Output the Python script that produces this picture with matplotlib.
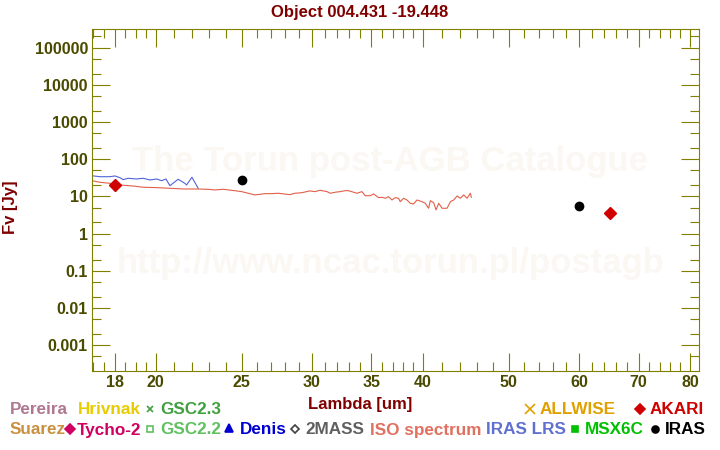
import matplotlib
matplotlib.use("Agg")
import matplotlib.pyplot as plt
from matplotlib.lines import Line2D
from matplotlib.ticker import FixedLocator, NullFormatter

plt.rcParams["font.family"] = ["Liberation Sans", "DejaVu Sans"]
plt.rcParams["font.weight"] = "bold"

# IRAS LRS spectrum (um, Jy)
lrs_wave = [16.95, 17.31, 17.77, 18.0, 18.24, 18.39, 18.63, 19.04, 19.37, 19.71,
            20.06, 20.32, 20.55, 20.76, 21.21, 21.58, 21.68, 21.98, 22.34]
lrs_flux = [36.2, 34.0, 34.0, 35.6, 32.0, 28.3, 30.8, 29.5, 30.8, 27.8,
            29.5, 26.6, 29.5, 19.5, 29.0, 22.6, 20.4, 32.8, 16.6]

# ISO spectrum (um, Jy)
iso_wave = [16.95, 17.31, 17.77, 18.39, 18.88, 19.37, 20.06, 20.76, 21.49, 22.25,
            22.93, 23.33, 23.84, 24.57, 25.00, 25.44, 25.88, 26.56, 27.03, 27.49,
            28.34, 28.71, 29.21, 29.85, 30.24, 30.64, 31.20, 31.46, 31.87, 32.29,
            32.71, 32.99, 33.72, 34.16, 34.45, 34.91, 35.21, 35.67, 35.98, 36.29,
            36.60, 36.93, 37.24, 37.56, 37.73, 38.05, 38.39, 38.72, 39.06, 39.40,
            39.92, 40.26, 40.61, 40.79, 41.14, 41.40, 41.68, 42.05, 42.60, 42.97,
            43.34, 43.72, 44.09, 44.47, 44.87, 45.25, 45.37]
iso_flux = [26.6, 24.1, 22.6, 20.0, 19.1, 17.7, 17.3, 16.6, 15.9, 15.9,
            15.6, 15.0, 15.6, 14.3, 13.5, 12.2, 11.0, 11.9, 11.9, 12.2,
            11.2, 12.2, 12.6, 14.1, 13.5, 14.7, 13.5, 12.2, 13.0, 13.5,
            14.3, 14.3, 12.2, 13.5, 10.5, 10.5, 11.7, 9.29, 9.51, 8.95,
            9.89, 8.05, 9.29, 8.95, 7.24, 8.95, 8.05, 6.56, 6.28, 8.05,
            7.24, 6.56, 4.82, 7.71, 6.81, 4.34, 6.56, 4.82, 4.82, 7.24,
            8.05, 10.3, 8.95, 11.0, 8.95, 12.2, 9.51]

iras_wave = [25, 60]
iras_flux = [27.2, 5.45]
akari_wave = [18, 65]
akari_flux = [20.4, 3.53]

x_major = [18, 20, 25, 30, 35, 40, 50, 60, 70, 80]
x_minor = [17, 17.5, 18.5, 19, 19.5, 21, 22, 23, 24, 26, 27, 28, 29, 31, 32, 33, 34,
           36, 37, 38, 39, 42, 44, 46, 48, 52, 54, 56, 58, 62, 64, 66, 68,
           72, 74, 76, 78, 82]
y_major = [0.001, 0.01, 0.1, 1, 10, 100, 1000, 10000, 100000]
y_labels = ["0.001", "0.01", "0.1", "1", "10", "100", "1000", "10000", "100000"]
y_minor = [m * 10.0 ** e for e in range(-4, 6) for m in (2, 5)]

olive = "#808000"
label_col = "#4a4a00"
title_col = "#800000"

fig = plt.figure(figsize=(7.2, 4.5), dpi=100)
ax = fig.add_axes([0.128, 0.1756, 0.843, 0.7589])

fig.text(390 / 720, 1 - 161 / 450, "The Torun post-AGB Catalogue", fontsize=25,
         color="#fbf7f2", ha="center", va="center", zorder=0)
fig.text(391 / 720, 1 - 263 / 450, "http://www.ncac.torun.pl/postagb", fontsize=25,
         color="#fbf7f2", ha="center", va="center", zorder=0)
ax.patch.set_alpha(0)

ax.plot(lrs_wave, lrs_flux, color="#5064d8", lw=0.8)
ax.plot(iso_wave, iso_flux, color="#e06048", lw=0.8)
ax.plot(iras_wave, iras_flux, "o", color="black", ms=6)
ax.plot(akari_wave, akari_flux, "D", color="#d00000", ms=6)

ax.set_xscale("log")
ax.set_yscale("log")
ax.set_xlim(16.97, 81.9)
ax.set_ylim(2.04e-4, 3.08e5)

ax.xaxis.set_major_locator(FixedLocator(x_major))
ax.xaxis.set_minor_locator(FixedLocator(x_minor))
ax.set_xticklabels([str(v) for v in x_major])
ax.xaxis.set_minor_formatter(NullFormatter())
ax.yaxis.set_major_locator(FixedLocator(y_major))
ax.yaxis.set_minor_locator(FixedLocator(y_minor))
ax.set_yticklabels(y_labels)
ax.yaxis.set_minor_formatter(NullFormatter())

ax.tick_params(which="both", direction="in", top=True, right=True, color=olive,
               width=0.8, labelsize=11.5, labelcolor=label_col)
ax.tick_params(which="major", length=13, pad=3)
ax.tick_params(which="minor", length=6.5)
for s in ax.spines.values():
    s.set_color(olive)
    s.set_linewidth(0.8)

fig.text(360 / 720, 1 - 12 / 450, "Object 004.431 -19.448", fontsize=12,
         color=title_col, ha="center", va="center")
fig.text(360 / 720, 1 - 405 / 450, "Lambda [um]", fontsize=12, color=title_col,
         ha="center", va="center")
fig.text(11 / 720, 1 - 207 / 450, "Fv [Jy]", fontsize=12, color=title_col,
         ha="center", va="center", rotation=90)

# legend as coloured text under the plot
def label(x, y, s, c):
    fig.text(x / 720, 1 - y / 450, s, fontsize=12.3, color=c, ha="left", va="center")

def mark(x, y, m, c, ms, fill=True):
    fig.add_artist(Line2D([x / 720], [1 - y / 450], marker=m, color=c, ms=ms,
                          mfc=c if fill else "none", mew=1.2, transform=fig.transFigure))

label(10, 410, "Pereira", "#b07890")
label(78, 410, "Hrivnak", "#e8cc00")
mark(150, 409, "x", "#40a040", 5)
label(160, 410, "GSC2.3", "#40a040")
mark(530, 409, "x", "#e0a000", 6.5)
label(540, 410, "ALLWISE", "#e0a000")
mark(640, 409, "D", "#d00000", 5)
label(650, 410, "AKARI", "#d00000")

label(10, 430, "Suarez", "#c89040")
mark(70, 429, "D", "#d00060", 5)
label(77, 430, "Tycho-2", "#d00060")
mark(150, 429, "s", "#60c060", 4, fill=False)
label(160, 430, "GSC2.2", "#60c060")
mark(229, 428, "^", "#0000d0", 6)
label(240, 430, "Denis", "#0000d0")
mark(295, 429, "D", "#404040", 4.5, fill=False)
label(305, 430, "2MASS", "#606060")
label(370, 430, "ISO spectrum", "#e07060")
label(486, 430, "IRAS LRS", "#6070d0")
mark(575, 429, "s", "#00c000", 5)
label(585, 430, "MSX6C", "#00c000")
mark(655, 429, "o", "black", 5)
label(665, 430, "IRAS", "black")

fig.savefig("out.png", dpi=100)
